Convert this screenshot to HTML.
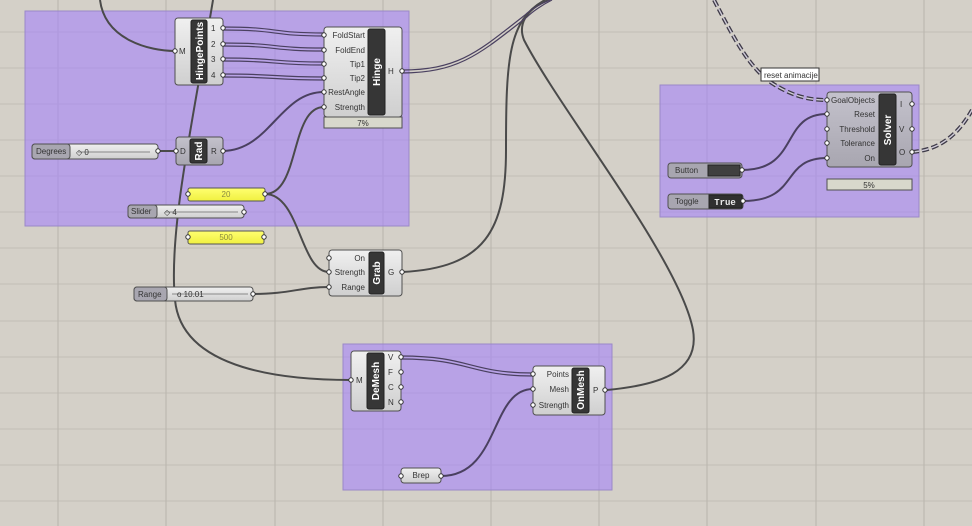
<!DOCTYPE html>
<html><head><meta charset="utf-8"><style>
html,body{margin:0;padding:0;background:#d4d0c8;}
svg{display:block;font-family:"Liberation Sans","DejaVu Sans",sans-serif;}
.t{font-size:8px;fill:#333;}
.w{fill:none;stroke:#4a4a4a;stroke-width:2;}
.wp{fill:none;stroke:#4a4060;stroke-width:2;}
.d1{fill:none;stroke:#3e3a48;stroke-width:4;}
.d2{fill:none;stroke:#d0ccd8;stroke-width:1.4;}
.box{fill:url(#g);stroke:#505050;stroke-width:1;}
.boxd{fill:url(#gd);stroke:#505050;stroke-width:1;}
.strip{fill:#363636;stroke:#222;stroke-width:1;}
.st{font-size:10px;font-weight:bold;fill:#fff;}
.port{fill:#fff;stroke:#333;stroke-width:1;}
</style></head><body>
<svg width="972" height="526" viewBox="0 0 972 526" xmlns="http://www.w3.org/2000/svg">
<defs>
<linearGradient id="g" x1="0" y1="0" x2="0" y2="1"><stop offset="0" stop-color="#f0f0f0"/><stop offset="1" stop-color="#cfcfcf"/></linearGradient>
<linearGradient id="gd" x1="0" y1="0" x2="0" y2="1"><stop offset="0" stop-color="#c4c2cc"/><stop offset="1" stop-color="#a8a6b0"/></linearGradient>
<linearGradient id="gy" x1="0" y1="0" x2="0" y2="1"><stop offset="0" stop-color="#ffff70"/><stop offset="1" stop-color="#f0f040"/></linearGradient>
</defs>
<rect width="972" height="526" fill="#d4d0c8"/>
<g stroke="#c2beb6" stroke-width="1">
<line x1="0" y1="32" x2="972" y2="32"/><line x1="0" y1="68" x2="972" y2="68"/><line x1="0" y1="104" x2="972" y2="104"/><line x1="0" y1="140" x2="972" y2="140"/><line x1="0" y1="176" x2="972" y2="176"/><line x1="0" y1="212" x2="972" y2="212"/><line x1="0" y1="248" x2="972" y2="248"/><line x1="0" y1="284" x2="972" y2="284"/><line x1="0" y1="321" x2="972" y2="321"/><line x1="0" y1="357" x2="972" y2="357"/><line x1="0" y1="393" x2="972" y2="393"/><line x1="0" y1="429" x2="972" y2="429"/><line x1="0" y1="465" x2="972" y2="465"/><line x1="0" y1="501" x2="972" y2="501"/>
</g>
<g stroke="#b8b4ac" stroke-width="1">
<line x1="58" y1="0" x2="58" y2="526"/><line x1="166" y1="0" x2="166" y2="526"/><line x1="275" y1="0" x2="275" y2="526"/><line x1="383" y1="0" x2="383" y2="526"/><line x1="491" y1="0" x2="491" y2="526"/><line x1="599" y1="0" x2="599" y2="526"/><line x1="707" y1="0" x2="707" y2="526"/><line x1="816" y1="0" x2="816" y2="526"/><line x1="924" y1="0" x2="924" y2="526"/>
</g>
<g fill="rgba(165,131,250,0.6)" stroke="#9a88c8" stroke-width="1">
<rect x="25" y="11" width="384" height="215"/>
<rect x="660" y="85" width="259" height="132"/>
<rect x="343" y="344" width="269" height="146"/>
</g>
<path class="w" d="M100,0 C105,40 150,51 175,51"/>
<path class="w" d="M213,0 C195,110 168,230 175,300 C182,372 290,380 351,380"/>
<path class="w" d="M158,151 L176,151"/>
<path class="wp" d="M223,151 C270,150 280,92 324,92"/>
<path class="w" d="M265,194 C300,194 290,107 324,107"/>
<path class="w" d="M265,194 C300,194 300,272 329,272"/>
<path class="w" d="M253,294 C290,294 300,287 329,287"/>
<path class="w" d="M402,272 C485,268 506,230 506,150 C506,60 508,20 545,0"/>
<path class="w" d="M607,390 C660,385 700,372 693,330 C680,260 560,110 524,40 C518,25 525,10 548,0"/>
<g fill="none" stroke="#4a4060" stroke-width="1.2">
<path d="M402,70 C460,70 480,50 525,15 C530,10 540,4 550,0"/><path d="M402,73 C460,73 482,52 527,17 C532,12 542,5 552,0"/>
<path d="M223,27 C280,27 270,33 324,33"/><path d="M223,30 C280,30 270,36 324,36"/>
<path d="M223,43 C280,43 270,48 324,48"/><path d="M223,46 C280,46 270,51 324,51"/>
<path d="M223,58 C280,58 270,62 324,62"/><path d="M223,61 C280,61 270,65 324,65"/>
<path d="M223,74 C280,74 270,77 324,77"/><path d="M223,77 C280,77 270,80 324,80"/>
<path d="M401,356 C470,356 470,373 533,373"/><path d="M401,359 C470,359 470,376 533,376"/>
</g>
<path class="wp" d="M441,476 C500,476 490,389 533,389"/>
<path class="wp" d="M742,170 C800,170 780,114 827,114"/>
<path class="wp" d="M743,201 C800,201 780,158 827,158"/>
<path class="d1" d="M714,0 C735,40 750,70 775,85 C795,97 810,100 827,100" stroke-dasharray="7 3"/>
<path class="d2" d="M714,0 C735,40 750,70 775,85 C795,97 810,100 827,100" stroke-dasharray="7 3"/>
<path class="d1" d="M912,152 C935,150 955,140 972,110" stroke-dasharray="7 3"/>
<path class="d2" d="M912,152 C935,150 955,140 972,110" stroke-dasharray="7 3"/>
<rect class="box" x="175" y="18" width="48" height="67" rx="3"/>
<rect class="strip" x="191" y="20" width="16" height="63" rx="2"/>
<text class="st" transform="translate(203,51) rotate(-90)" text-anchor="middle">HingePoints</text>
<text class="t" x="179" y="54">M</text>
<text class="t" x="211" y="31">1</text><text class="t" x="211" y="47">2</text><text class="t" x="211" y="62">3</text><text class="t" x="211" y="78">4</text>
<rect class="box" x="324" y="27" width="78" height="90" rx="3"/>
<rect class="strip" x="368" y="29" width="17" height="86" rx="2"/>
<text class="st" transform="translate(380,72) rotate(-90)" text-anchor="middle">Hinge</text>
<g class="t" text-anchor="end"><text x="365" y="38">FoldStart</text><text x="365" y="53">FoldEnd</text><text x="365" y="67">Tip1</text><text x="365" y="81">Tip2</text><text x="365" y="95">RestAngle</text><text x="365" y="110">Strength</text></g>
<text class="t" x="388" y="74">H</text>
<rect x="324" y="117" width="78" height="11" fill="#d8d8cc" stroke="#505050"/>
<text class="t" x="363" y="126" text-anchor="middle">7%</text>
<rect class="boxd" x="176" y="137" width="47" height="28" rx="3"/>
<rect class="strip" x="190" y="139" width="17" height="24" rx="2"/>
<text class="st" transform="translate(202,151) rotate(-90)" text-anchor="middle">Rad</text>
<text class="t" x="180" y="154">D</text><text class="t" x="211" y="154">R</text>
<rect x="32" y="144" width="126" height="15" rx="3" fill="url(#g)" stroke="#505050"/>
<rect x="32" y="144" width="38" height="15" rx="3" fill="#a8a6b0" stroke="#505050"/>
<text class="t" x="36" y="154">Degrees</text>
<line x1="78" y1="152" x2="150" y2="152" stroke="#888"/>
<text class="t" x="76" y="155">◇ 0</text>
<rect x="188" y="188" width="77" height="13" rx="2" fill="url(#gy)" stroke="#555"/>
<text x="226" y="197" font-size="8" fill="#8a8a40" text-anchor="middle">20</text>
<rect x="188" y="231" width="76" height="13" rx="2" fill="url(#gy)" stroke="#555"/>
<text x="226" y="240" font-size="8" fill="#8a8a40" text-anchor="middle">500</text>
<rect x="128" y="205" width="116" height="13" rx="3" fill="url(#g)" stroke="#505050"/>
<rect x="128" y="205" width="29" height="13" rx="3" fill="#a8a6b0" stroke="#505050"/>
<text class="t" x="131" y="214">Slider</text>
<line x1="165" y1="212" x2="238" y2="212" stroke="#888"/>
<text class="t" x="164" y="215">◇ 4</text>
<rect x="134" y="287" width="119" height="14" rx="3" fill="url(#g)" stroke="#505050"/>
<rect x="134" y="287" width="33" height="14" rx="3" fill="#a8a6b0" stroke="#505050"/>
<text class="t" x="138" y="297">Range</text>
<line x1="172" y1="294" x2="248" y2="294" stroke="#888"/>
<text class="t" x="177" y="297">o 10.01</text>
<rect class="box" x="329" y="250" width="73" height="46" rx="3"/>
<rect class="strip" x="369" y="252" width="15" height="42" rx="2"/>
<text class="st" transform="translate(380,273) rotate(-90)" text-anchor="middle">Grab</text>
<g class="t" text-anchor="end"><text x="365" y="261">On</text><text x="365" y="275">Strength</text><text x="365" y="290">Range</text></g>
<text class="t" x="388" y="275">G</text>
<rect class="boxd" x="827" y="92" width="85" height="75" rx="3"/>
<rect class="strip" x="879" y="94" width="17" height="71" rx="2"/>
<text class="st" transform="translate(891,130) rotate(-90)" text-anchor="middle">Solver</text>
<g class="t" text-anchor="end"><text x="875" y="103">GoalObjects</text><text x="875" y="117">Reset</text><text x="875" y="132">Threshold</text><text x="875" y="146">Tolerance</text><text x="875" y="161">On</text></g>
<text class="t" x="900" y="107">I</text><text class="t" x="899" y="132">V</text><text class="t" x="899" y="155">O</text>
<rect x="827" y="179" width="85" height="11" fill="#d8d8cc" stroke="#505050"/>
<text class="t" x="869" y="188" text-anchor="middle">5%</text>
<rect x="668" y="163" width="74" height="15" rx="3" fill="#a8a6b0" stroke="#505050"/>
<text class="t" x="675" y="173">Button</text>
<rect x="708" y="165" width="32" height="11" fill="#404040" stroke="#222"/>
<rect x="668" y="194" width="75" height="15" rx="3" fill="#a8a6b0" stroke="#505050"/>
<text class="t" x="675" y="204">Toggle</text>
<rect x="709" y="195" width="33" height="13" fill="#303030" stroke="#222"/>
<text x="725" y="205" font-size="9" font-weight="bold" fill="#eee" font-family="Liberation Mono,monospace" text-anchor="middle">True</text>
<rect x="761" y="68" width="58" height="13" fill="#fff" stroke="#333"/>
<text class="t" x="764" y="78">reset animacije</text>
<rect class="box" x="351" y="351" width="50" height="60" rx="3"/>
<rect class="strip" x="367" y="353" width="17" height="56" rx="2"/>
<text class="st" transform="translate(379,381) rotate(-90)" text-anchor="middle">DeMesh</text>
<text class="t" x="356" y="383">M</text>
<text class="t" x="388" y="360">V</text><text class="t" x="388" y="375">F</text><text class="t" x="388" y="390">C</text><text class="t" x="388" y="405">N</text>
<rect class="box" x="533" y="366" width="72" height="49" rx="3"/>
<rect class="strip" x="572" y="368" width="17" height="45" rx="2"/>
<text class="st" transform="translate(584,390) rotate(-90)" text-anchor="middle">OnMesh</text>
<g class="t" text-anchor="end"><text x="569" y="377">Points</text><text x="569" y="392">Mesh</text><text x="569" y="408">Strength</text></g>
<text class="t" x="593" y="393">P</text>
<rect class="box" x="401" y="468" width="40" height="15" rx="3"/>
<text class="t" x="421" y="478" text-anchor="middle">Brep</text>
<g class="port">
<circle cx="175" cy="51" r="2.2"/><circle cx="223" cy="28" r="2.2"/><circle cx="223" cy="44" r="2.2"/><circle cx="223" cy="59" r="2.2"/><circle cx="223" cy="75" r="2.2"/>
<circle cx="324" cy="35" r="2.2"/><circle cx="324" cy="50" r="2.2"/><circle cx="324" cy="64" r="2.2"/><circle cx="324" cy="78" r="2.2"/><circle cx="324" cy="92" r="2.2"/><circle cx="324" cy="107" r="2.2"/><circle cx="402" cy="71" r="2.2"/>
<circle cx="176" cy="151" r="2.2"/><circle cx="223" cy="151" r="2.2"/><circle cx="158" cy="151" r="2.2"/>
<circle cx="188" cy="194" r="2.2"/><circle cx="265" cy="194" r="2.2"/><circle cx="188" cy="237" r="2.2"/><circle cx="264" cy="237" r="2.2"/><circle cx="244" cy="212" r="2.2"/><circle cx="253" cy="294" r="2.2"/>
<circle cx="329" cy="258" r="2.2"/><circle cx="329" cy="272" r="2.2"/><circle cx="329" cy="287" r="2.2"/><circle cx="402" cy="272" r="2.2"/>
<circle cx="827" cy="100" r="2.2"/><circle cx="827" cy="114" r="2.2"/><circle cx="827" cy="129" r="2.2"/><circle cx="827" cy="143" r="2.2"/><circle cx="827" cy="158" r="2.2"/>
<circle cx="912" cy="104" r="2.2"/><circle cx="912" cy="129" r="2.2"/><circle cx="912" cy="152" r="2.2"/>
<circle cx="742" cy="170" r="2.2"/><circle cx="743" cy="201" r="2.2"/>
<circle cx="351" cy="380" r="2.2"/><circle cx="401" cy="357" r="2.2"/><circle cx="401" cy="372" r="2.2"/><circle cx="401" cy="387" r="2.2"/><circle cx="401" cy="402" r="2.2"/>
<circle cx="533" cy="374" r="2.2"/><circle cx="533" cy="389" r="2.2"/><circle cx="533" cy="405" r="2.2"/><circle cx="605" cy="390" r="2.2"/>
<circle cx="401" cy="476" r="2.2"/><circle cx="441" cy="476" r="2.2"/>
</g>
</svg>
</body></html>
